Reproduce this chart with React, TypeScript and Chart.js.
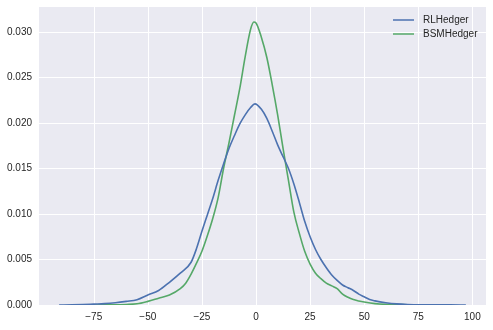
import { useEffect, useRef } from "react";
import { Chart, registerables } from "chart.js";

Chart.register(...registerables);

const seriesNames = ["RLHedger", "BSMHedger"];

const rlX = [-91, -85, -80, -75, -70, -65, -60, -55, -50, -45, -40, -35, -30, -27.5, -25, -22.5, -20, -17.5, -15, -12.5, -10, -7.5, -5, -2.5, -0.5, 2.5, 5, 7.5, 10, 12.5, 15, 17.5, 20, 22.5, 25, 27.5, 30, 32.5, 35, 37.5, 40, 42.5, 45, 47.5, 50, 52.5, 55, 60, 65, 70, 80, 90, 97];
const rlY = [0, 0.00002, 0.00005, 0.0001, 0.00015, 0.00025, 0.0004, 0.00058, 0.0011, 0.0016, 0.0025, 0.0035, 0.0047, 0.0062, 0.0081, 0.0099, 0.0117, 0.0137, 0.0155, 0.0172, 0.0186, 0.0199, 0.0209, 0.0217, 0.0221, 0.0215, 0.0205, 0.0191, 0.0176, 0.0163, 0.015, 0.0133, 0.0113, 0.0092, 0.0075, 0.0061, 0.005, 0.0041, 0.0033, 0.0027, 0.0022, 0.0019, 0.0016, 0.0012, 0.0009, 0.0006, 0.00045, 0.00025, 0.00012, 0.00006, 0.00003, 0.00001, 0];

const bsmX = [-78, -70, -60, -55, -50, -45, -40, -35, -32.5, -30, -27.5, -25, -22.5, -20, -17.5, -15, -12.5, -10, -7.5, -5, -2.5, -1, 0, 2.5, 5, 7.5, 10, 12.5, 15, 17.5, 20, 22.5, 25, 27.5, 30, 32.5, 35, 37.5, 40, 42.5, 45, 47.5, 50, 55, 60, 70, 80, 87];
const bsmY = [0, 0.00002, 0.00006, 0.00013, 0.0004, 0.00075, 0.0011, 0.0018, 0.0024, 0.0034, 0.0046, 0.0059, 0.0076, 0.0095, 0.0118, 0.015, 0.0178, 0.0208, 0.0238, 0.0273, 0.0303, 0.0311, 0.031, 0.0294, 0.0272, 0.0242, 0.0209, 0.0172, 0.0137, 0.0102, 0.0079, 0.0059, 0.0045, 0.0035, 0.0029, 0.0024, 0.0021, 0.0018, 0.0012, 0.00085, 0.0006, 0.00045, 0.00033, 0.00015, 0.00007, 0.00003, 0.00001, 0];

const xTicks = [-75, -50, -25, 0, 25, 50, 75, 100];
const yTicks = [0, 0.005, 0.01, 0.015, 0.02, 0.025, 0.03];

const colors = ["#4C72B0", "#55A868"];
const FONT = "'Liberation Sans', Arial, sans-serif";

const fmtX = (v: number) => (v < 0 ? "\u2212" + Math.abs(v) : String(v));

export default function App() {
  const ref = useRef<HTMLCanvasElement | null>(null);

  useEffect(() => {
    document.body.style.margin = "0";
    const canvas = ref.current;
    if (!canvas) return;

    const bgPlugin = {
      id: "bg",
      beforeDraw(chart: any) {
        const { ctx, chartArea } = chart;
        ctx.save();
        ctx.fillStyle = "#ffffff";
        ctx.fillRect(0, 0, chart.width, chart.height);
        ctx.fillStyle = "#EAEAF2";
        ctx.fillRect(chartArea.left, chartArea.top, chartArea.right - chartArea.left, chartArea.bottom - chartArea.top);
        const xs = chart.scales.x;
        ctx.strokeStyle = "#ffffff";
        ctx.lineWidth = 1;
        xTicks.forEach((v) => {
          const px = Math.round(xs.getPixelForValue(v)) + 0.5;
          ctx.beginPath();
          ctx.moveTo(px, chartArea.top);
          ctx.lineTo(px, chartArea.bottom);
          ctx.stroke();
        });
        ctx.restore();
      },
      afterDraw(chart: any) {
        const { ctx, chartArea } = chart;
        const xs = chart.scales.x;
        ctx.save();
        ctx.fillStyle = "#262626";
        ctx.font = `10px ${FONT}`;
        ctx.textAlign = "center";
        ctx.textBaseline = "top";
        xTicks.forEach((v) => {
          const px = xs.getPixelForValue(v);
          ctx.fillText(fmtX(v), px, chartArea.bottom + 7);
        });
        ctx.textBaseline = "middle";
        ctx.textAlign = "left";
        chart.data.datasets.forEach((ds: any, i: number) => {
          const y = 20 + i * 14;
          ctx.strokeStyle = ds.borderColor;
          ctx.lineWidth = 1.5;
          ctx.beginPath();
          ctx.moveTo(393, y);
          ctx.lineTo(414, y);
          ctx.stroke();
          ctx.fillStyle = "#262626";
          ctx.fillText(ds.label, 423, y);
        });
        ctx.restore();
      },
    };

    const chart = new Chart(canvas, {
      type: "line",
      data: {
        datasets: [
          {
            label: seriesNames[0],
            data: rlX.map((x, i) => ({ x, y: rlY[i] })),
            borderColor: colors[0],
            borderWidth: 1.6,
            pointRadius: 0,
            cubicInterpolationMode: "monotone",
            fill: false,
          },
          {
            label: seriesNames[1],
            data: bsmX.map((x, i) => ({ x, y: bsmY[i] })),
            borderColor: colors[1],
            borderWidth: 1.6,
            pointRadius: 0,
            cubicInterpolationMode: "monotone",
            fill: false,
          },
        ],
      },
      options: {
        animation: false,
        responsive: false,
        devicePixelRatio: 1,
        layout: { padding: { left: 0, top: 7, right: 7, bottom: 0 } },
        plugins: { legend: { display: false }, tooltip: { enabled: false } },
        scales: {
          x: {
            type: "linear",
            min: -100.3,
            max: 106.3,
            afterFit: (scale: any) => {
              scale.height = 25;
              scale.paddingLeft = 0;
              scale.paddingRight = 0;
              scale.paddingTop = 0;
              scale.paddingBottom = 0;
            },
            grid: { display: false },
            border: { display: false },
            ticks: { display: false },
          },
          y: {
            type: "linear",
            min: 0,
            max: 0.03275,
            afterBuildTicks: (scale: any) => {
              scale.ticks = yTicks.map((v) => ({ value: v }));
            },
            afterFit: (scale: any) => {
              scale.width = 39;
              scale.paddingLeft = 0;
              scale.paddingRight = 0;
              scale.paddingTop = 0;
              scale.paddingBottom = 0;
            },
            grid: { color: "#ffffff", lineWidth: 1, drawTicks: false },
            border: { display: false },
            ticks: {
              autoSkip: false,
              padding: 7,
              color: "#262626",
              font: { family: FONT, size: 10 },
              callback: (v: any) => Number(v).toFixed(3),
            },
          },
        },
      },
      plugins: [bgPlugin],
    } as any);

    return () => chart.destroy();
  }, []);

  return (
    <div style={{ width: 493, height: 330 }}>
      <canvas ref={ref} width={493} height={330} style={{ display: "block" }} />
    </div>
  );
}
